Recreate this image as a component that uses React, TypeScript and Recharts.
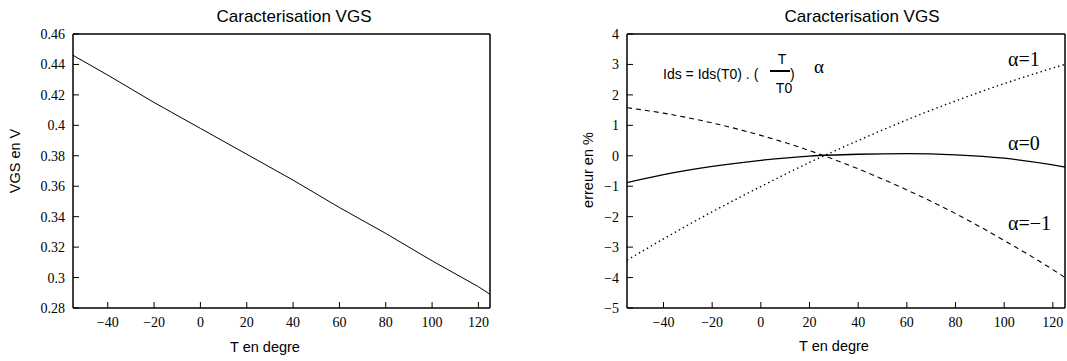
import React from "react";
import { LineChart, Line, XAxis, YAxis } from "recharts";

// temperatures in degrees, shared by both panels
const temps = [-55, -40, -20, 0, 20, 40, 60, 80, 100, 120, 125];
// VGS in volts (left panel)
const vgs = [0.446, 0.433, 0.415, 0.398, 0.381, 0.364, 0.346, 0.329, 0.311, 0.294, 0.289];
// error in % for each alpha (right panel)
const errAlpha0 = [-0.88, -0.62, -0.35, -0.15, -0.01, 0.05, 0.07, 0.03, -0.08, -0.3, -0.37];
const errAlphaPlus1 = [-3.43, -2.73, -1.84, -1.01, -0.22, 0.5, 1.18, 1.8, 2.37, 2.88, 3.0];
const errAlphaMinus1 = [1.58, 1.4, 1.08, 0.67, 0.17, -0.43, -1.12, -1.9, -2.78, -3.74, -4.0];

const xTicks = [-40, -20, 0, 20, 40, 60, 80, 100, 120];
const vgsTicks = [0.28, 0.3, 0.32, 0.34, 0.36, 0.38, 0.4, 0.42, 0.44, 0.46];
const errTicks = [-5, -4, -3, -2, -1, 0, 1, 2, 3, 4];

const rows = temps.map((t, i) => ({
  t,
  vgs: vgs[i],
  a0: errAlpha0[i],
  ap: errAlphaPlus1[i],
  am: errAlphaMinus1[i],
}));

const sans = '"Liberation Sans", Arial, sans-serif';
const serif = '"Liberation Serif", "Times New Roman", serif';
const fmt = (v: number) => String(v).replace("-", "\u2212");
const axisStroke = { stroke: "#000", strokeWidth: 1.5 };
const tickStroke = { stroke: "#000", strokeWidth: 1 };
const tickText = { fontFamily: serif, fontSize: 14, fill: "#000" };

// serif tick labels, gnuplot style
const BottomTick = (props: any) => (
  <text x={props.x} y={props.y} dy="0.71em" textAnchor="middle" style={tickText}>
    {fmt(props.payload.value)}
  </text>
);
const LeftTick = (props: any) => (
  <text x={props.x} y={props.y} dy="0.355em" textAnchor="end" style={tickText}>
    {fmt(props.payload.value)}
  </text>
);

function Txt({
  x,
  y,
  children,
  size = 14,
  font = sans,
  center = true,
  rotate = 0,
}: {
  x: number;
  y: number;
  children: React.ReactNode;
  size?: number;
  font?: string;
  center?: boolean;
  rotate?: number;
}) {
  return (
    <div
      style={{
        position: "absolute",
        left: x,
        top: y,
        transform: `translate(${center ? "-50%" : "0"}, -50%) rotate(${rotate}deg)`,
        fontFamily: font,
        fontSize: size,
        lineHeight: 1,
        whiteSpace: "nowrap",
        color: "#000",
      }}
    >
      {children}
    </div>
  );
}

export default function App() {
  return (
    <div style={{ position: "absolute", left: 0, top: 0, width: 1067, height: 361, background: "#fff", fontFamily: serif }}>
      <div style={{ position: "absolute", left: 0, top: 0 }}>
        <LineChart width={533} height={361} data={rows} margin={{ top: 32, right: 41, bottom: 0, left: 0 }}>
          <XAxis
            dataKey="t"
            type="number"
            domain={[-55, 125]}
            ticks={xTicks}
            tick={BottomTick}
            tickSize={-6}
            tickMargin={15}
            height={53}
            axisLine={axisStroke}
            tickLine={tickStroke}
          />
          <XAxis
            xAxisId="top"
            orientation="top"
            dataKey="t"
            type="number"
            domain={[-55, 125]}
            ticks={xTicks}
            tick={false}
            tickSize={-6}
            height={2}
            axisLine={axisStroke}
            tickLine={tickStroke}
          />
          <YAxis
            type="number"
            domain={[0.28, 0.46]}
            ticks={vgsTicks}
            tick={LeftTick}
            tickSize={-6}
            tickMargin={14}
            width={73}
            axisLine={axisStroke}
            tickLine={tickStroke}
          />
          <YAxis
            yAxisId="right"
            orientation="right"
            type="number"
            domain={[0.28, 0.46]}
            ticks={vgsTicks}
            tick={false}
            tickSize={-6}
            width={2}
            axisLine={axisStroke}
            tickLine={tickStroke}
          />
          <Line dataKey="vgs" type="linear" stroke="#000" strokeWidth={1} dot={false} activeDot={false} isAnimationActive={false} />
        </LineChart>
      </div>

      <div style={{ position: "absolute", left: 534, top: 0 }}>
        <LineChart width={533} height={361} data={rows} margin={{ top: 32, right: 0, bottom: 0, left: 0 }}>
          <XAxis
            dataKey="t"
            type="number"
            domain={[-55, 125]}
            ticks={xTicks}
            tick={BottomTick}
            tickSize={-6}
            tickMargin={15}
            height={53}
            axisLine={axisStroke}
            tickLine={tickStroke}
          />
          <XAxis
            xAxisId="top"
            orientation="top"
            dataKey="t"
            type="number"
            domain={[-55, 125]}
            ticks={xTicks}
            tick={false}
            tickSize={-6}
            height={2}
            axisLine={axisStroke}
            tickLine={tickStroke}
          />
          <YAxis
            type="number"
            domain={[-5, 4]}
            ticks={errTicks}
            tick={LeftTick}
            tickSize={-6}
            tickMargin={14}
            width={93}
            axisLine={axisStroke}
            tickLine={tickStroke}
          />
          <YAxis
            yAxisId="right"
            orientation="right"
            type="number"
            domain={[-5, 4]}
            ticks={errTicks}
            tick={false}
            tickSize={-6}
            width={2}
            axisLine={axisStroke}
            tickLine={tickStroke}
          />
          <Line dataKey="a0" type="monotone" stroke="#000" strokeWidth={1.3} dot={false} activeDot={false} isAnimationActive={false} />
          <Line dataKey="ap" type="monotone" stroke="#000" strokeWidth={1.4} strokeDasharray="1.4 3.2" dot={false} activeDot={false} isAnimationActive={false} />
          <Line dataKey="am" type="monotone" stroke="#000" strokeWidth={1.1} strokeDasharray="5 4" dot={false} activeDot={false} isAnimationActive={false} />
        </LineChart>
      </div>

      {/* titles and axis names */}
      <Txt x={294} y={16} size={17}>Caracterisation VGS</Txt>
      <Txt x={862} y={16} size={17}>Caracterisation VGS</Txt>
      <Txt x={265} y={347} size={14.5}>T en degre</Txt>
      <Txt x={834} y={346} size={14.5}>T en degre</Txt>
      <Txt x={15} y={161} size={14.5} rotate={-90}>VGS en V</Txt>
      <Txt x={588} y={170} size={14.5} rotate={-90}>erreur en %</Txt>

      {/* formula */}
      <Txt x={663} y={74} center={false}>Ids = Ids(T0) . (</Txt>
      <Txt x={782} y={59}>T</Txt>
      <div style={{ position: "absolute", left: 770, top: 70, width: 20, height: 1.5, background: "#000" }} />
      <Txt x={784} y={88}>T0</Txt>
      <Txt x={790} y={74} center={false}>)</Txt>
      <Txt x={819} y={66} size={19} font={serif}>α</Txt>

      {/* curve labels */}
      <Txt x={1008} y={59} size={20} font={serif} center={false}>α=1</Txt>
      <Txt x={1008} y={143} size={20} font={serif} center={false}>α=0</Txt>
      <Txt x={1008} y={223} size={20} font={serif} center={false}>α={"\u2212"}1</Txt>
    </div>
  );
}
